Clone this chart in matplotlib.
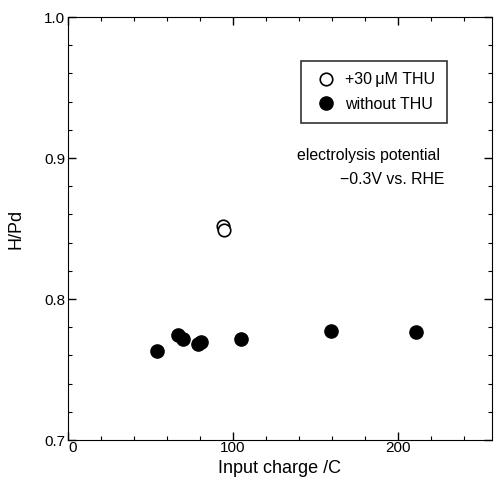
import numpy as np
import matplotlib.pyplot as plt
from matplotlib.ticker import MultipleLocator

plt.rcParams['font.family'] = ['Liberation Sans', 'DejaVu Sans']

# data
charge_thu = [94.0, 94.5]
hpd_thu = [0.852, 0.849]

charge_no = [54, 66.7, 69.8, 78.9, 80.6, 104.6, 159.4, 210.9]
hpd_no = [0.763, 0.7745, 0.7716, 0.768, 0.7695, 0.7716, 0.777, 0.7766]

fig = plt.figure(figsize=(4.96, 4.87), dpi=100)
ax = fig.add_axes([0.137, 0.0965, 0.855, 0.8685])

ax.plot(charge_thu, hpd_thu, 'o', ms=9, mfc='white', mec='black', mew=1.2,
        label='+30\u2009\u03bcM THU', ls='none')
ax.plot(charge_no, hpd_no, 'o', ms=9.5, color='black', label='without THU', ls='none')

ax.set_xlim(0, 257)
ax.set_ylim(0.7, 1.0)
ax.xaxis.set_major_locator(MultipleLocator(100))
ax.xaxis.set_minor_locator(MultipleLocator(20))
ax.yaxis.set_major_locator(MultipleLocator(0.1))
ax.yaxis.set_minor_locator(MultipleLocator(0.02))
ax.tick_params(which='both', direction='in', top=True, right=True, labelsize=11)
ax.tick_params(which='major', length=6, width=1)
ax.tick_params(which='minor', length=3, width=0.8)
ax.tick_params(axis='x', pad=1)
ax.tick_params(axis='y', pad=2)
ax.xaxis.set_major_formatter(plt.FuncFormatter(lambda v, p: '%d' % v))
ax.yaxis.set_major_formatter(plt.FuncFormatter(lambda v, p: '%.1f' % v))
for lab in ax.get_xticklabels():
    lab.set_horizontalalignment('left' if lab.get_text() == '0' else 'center')

ax.set_xlabel('Input charge /C', fontsize=13, labelpad=3)
ax.set_ylabel('H/Pd', fontsize=13, labelpad=14)

leg = ax.legend(loc='upper left', bbox_to_anchor=(0.53, 0.915), frameon=True,
                fancybox=False, edgecolor='black', fontsize=11.5, handletextpad=0.3,
                borderpad=0.7, labelspacing=0.6, handlelength=1.8)
leg.get_frame().set_linewidth(1.2)

ax.text(0.54, 0.672, 'electrolysis potential', transform=ax.transAxes, fontsize=11.4,
        ha='left', va='center')
ax.text(0.887, 0.617, '\u22120.3V vs. RHE', transform=ax.transAxes, fontsize=11.4,
        ha='right', va='center')

fig.savefig('out.png', dpi=100)
